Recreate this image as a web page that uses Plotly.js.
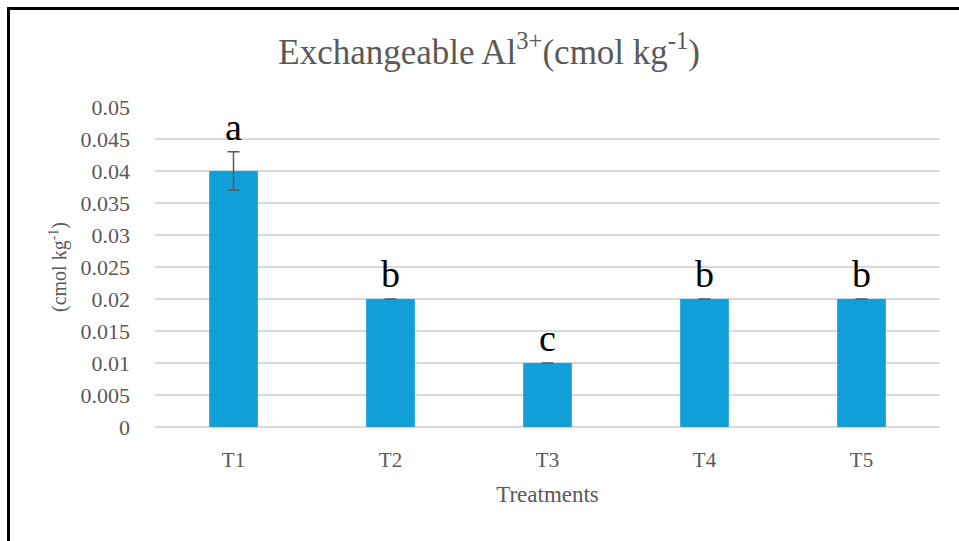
<!DOCTYPE html>
<html>
<head>
<meta charset="utf-8">
<script src="https://cdn.plot.ly/plotly-3.0.1.min.js"></script>
<style>
html,body{margin:0;padding:0;background:#fff;}
#wrap{position:relative;width:959px;height:541px;overflow:hidden;}
#chart{position:absolute;left:0;top:0;width:959px;height:541px;}
#frame{position:absolute;left:7px;top:7px;width:1000px;height:600px;border-left:3px solid #000;border-top:3px solid #000;pointer-events:none;}
</style>
</head>
<body>
<div id="wrap"><div id="chart"></div><div id="frame"></div></div>
<script>
const categories = ['T1', 'T2', 'T3', 'T4', 'T5'];
const values = [0.04, 0.02, 0.01, 0.02, 0.02];
const errors = [0.003, 0, 0, 0, 0];
const letters = ['a', 'b', 'c', 'b', 'b'];

const serif = 'Liberation Serif, Times New Roman, serif';
const gray = '#595959';

const trace = {
  type: 'bar',
  x: categories,
  y: values,
  width: 0.31,
  marker: {color: '#119FD7', line: {width: 0}},
  error_y: {type: 'data', array: errors, visible: true, color: gray, thickness: 1.5, width: 6},
  hoverinfo: 'skip'
};

const annotations = categories.map((c, i) => ({
  x: c,
  y: values[i] + errors[i],
  xref: 'x', yref: 'y',
  text: letters[i],
  showarrow: false,
  yanchor: 'bottom',
  yshift: 2,
  font: {family: serif, size: 38, color: '#000'}
}));

const layout = {
  width: 959, height: 541,
  margin: {l: 155, r: 19, t: 107, b: 114},
  paper_bgcolor: '#fff', plot_bgcolor: '#fff',
  showlegend: false,
  font: {family: serif, color: gray},
  title: {
    text: 'Exchangeable Al<sup>3+</sup>(cmol kg<sup>-1</sup>)',
    x: 0.51, xanchor: 'center', y: 0.905, yanchor: 'middle',
    font: {family: serif, size: 35, color: gray}
  },
  xaxis: {
    type: 'category',
    showgrid: false, zeroline: false, showline: false,
    ticks: '', ticklabelstandoff: 18,
    tickfont: {family: serif, size: 21, color: gray},
    title: {text: 'Treatments', standoff: 14, font: {family: serif, size: 23, color: gray}}
  },
  yaxis: {
    range: [0, 0.05], dtick: 0.005, tick0: 0,
    showgrid: true, gridcolor: '#d9d9d9', gridwidth: 1.5,
    zeroline: true, zerolinecolor: '#d9d9d9', zerolinewidth: 2,
    showline: false, ticks: '', ticklabelstandoff: 24,
    tickfont: {family: serif, size: 22, color: gray},
    title: {text: '(cmol kg<sup>-1</sup>)', standoff: 8, font: {family: serif, size: 20, color: gray}}
  },
  annotations: annotations
};

Plotly.newPlot('chart', [trace], layout, {displayModeBar: false, staticPlot: true});
</script>
</body>
</html>
